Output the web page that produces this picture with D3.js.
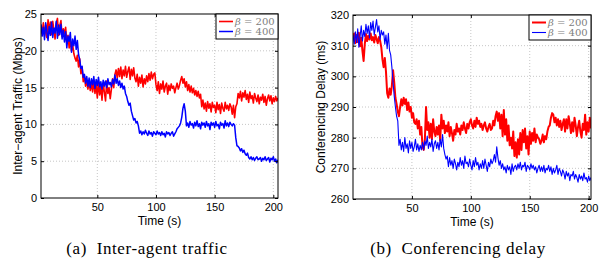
<!DOCTYPE html>
<html>
<head>
<meta charset="utf-8">
<script src="https://cdn.jsdelivr.net/npm/d3@7"></script>
<style>
  body { margin: 0; background: #fff; }
  svg { display: block; }
  .tick text { font-family: "Liberation Sans", Arial, sans-serif; font-size: 11px; fill: #000; }
</style>
</head>
<body>
<div id="chart"></div>
<script>
// left panel: inter-agent traffic (Mbps), one sample per second from t = 2
var trafficStart = 2;
var traffic200 = [
  23.1, 22.4, 23.8, 22.0, 23.5, 21.8, 24.2, 22.6, 23.9, 22.2,
  24.0, 22.8, 21.6, 23.7, 24.4, 22.1, 23.4, 24.1, 21.9, 23.0,
  22.3, 23.2, 21.0, 22.1, 20.4, 21.5, 20.0, 20.8, 19.6, 19.0,
  18.6, 19.4, 17.8, 18.9, 16.9, 17.8, 15.8, 16.6, 15.2, 16.0,
  14.8, 15.9, 14.6, 15.6, 14.4, 16.0, 14.2, 15.4, 13.6, 15.8,
  14.0, 15.2, 13.3, 15.6, 14.4, 13.2, 15.9, 14.2, 15.0, 13.5,
  14.8, 16.2, 15.0, 16.8, 17.4, 16.3, 17.6, 16.5, 17.8, 16.2,
  17.4, 16.6, 17.9, 16.4, 17.2, 17.8, 16.1, 17.5, 16.6, 17.7,
  16.3, 15.8, 16.8, 15.2, 16.4, 15.6, 16.7, 15.1, 16.2, 15.5,
  16.6, 15.8, 16.9, 16.0, 17.1, 16.2, 16.8, 17.0, 15.4, 14.6,
  15.8, 14.2, 15.5, 14.8, 15.9, 14.4, 15.2, 15.6, 14.1, 15.3,
  14.6, 15.5, 14.9, 15.2, 14.3, 15.0, 15.6, 14.8, 15.3, 16.0,
  16.5, 15.6, 16.2, 15.1, 15.8, 14.6, 15.4, 14.4, 15.2, 14.3,
  14.9, 14.0, 14.6, 13.8, 14.5, 13.6, 14.1, 12.4, 13.3, 12.1,
  12.9, 11.8, 13.1, 12.2, 12.8, 11.7, 13.0, 12.3, 12.6, 11.6,
  13.0, 12.0, 12.7, 11.5, 12.9, 12.2, 11.8, 13.0, 12.1, 12.6,
  11.9, 12.8, 12.4, 11.4, 12.6, 10.9, 12.4, 12.8, 14.2, 13.6,
  14.5, 13.2, 14.3, 13.7, 14.6, 13.4, 14.1, 13.0, 14.4, 13.5,
  13.9, 12.9, 14.2, 13.6, 13.1, 14.0, 12.8, 13.7, 13.3, 14.1,
  13.0, 13.8, 12.6, 13.5, 14.0, 13.2, 13.9, 12.8, 13.6, 13.1,
  13.8, 13.2, 13.6
];
var traffic400 = [
  23.6, 22.0, 23.2, 21.5, 23.8, 22.6, 21.4, 23.3, 22.1, 23.9,
  21.8, 23.1, 22.4, 24.0, 21.7, 23.5, 22.2, 23.6, 21.6, 22.8,
  21.2, 22.6, 20.4, 22.0, 21.3, 22.5, 19.8, 21.6, 20.7, 22.0,
  20.2, 21.4, 19.5, 18.8, 17.6, 17.9, 16.4, 16.8, 15.6, 16.5,
  15.2, 16.3, 15.0, 16.2, 15.4, 16.5, 14.9, 16.1, 15.3, 16.4,
  15.1, 15.8, 14.8, 16.0, 15.2, 15.9, 15.0, 16.2, 15.4, 15.7,
  15.1, 16.1, 15.5, 16.7, 15.6, 16.2, 15.3, 15.9, 15.0, 15.6,
  14.8, 15.2, 14.2, 13.8, 13.1, 12.6, 12.9, 11.8, 11.2, 10.6,
  10.8, 10.2, 10.4, 9.8, 8.8, 9.1, 8.6, 9.0, 8.7, 9.2,
  8.8, 8.5, 9.1, 8.7, 8.9, 8.4, 9.0, 8.8, 8.6, 9.1,
  8.7, 8.9, 8.5, 9.0, 8.6, 8.8, 8.3, 9.0, 8.7, 8.9,
  8.5, 8.8, 9.0, 8.4, 8.7, 9.0, 9.4, 9.6, 9.8, 10.2,
  11.0, 12.2, 12.8, 11.8, 9.8, 10.2, 9.6, 10.4, 9.9, 10.1,
  9.5, 10.3, 9.8, 10.5, 9.7, 10.1, 9.4, 10.3, 9.9, 10.2,
  9.6, 10.4, 9.8, 10.1, 9.3, 10.3, 9.9, 10.2, 9.6, 10.4,
  9.8, 10.0, 9.4, 10.3, 9.9, 10.1, 9.5, 10.5, 9.8, 10.2,
  9.7, 10.3, 10.0, 9.8, 10.1, 9.9, 8.2, 7.1, 7.0, 6.8,
  6.4, 6.7, 6.2, 6.5, 6.0, 5.8, 6.1, 5.5, 5.3, 5.6,
  5.2, 5.5, 5.1, 5.4, 5.6, 5.2, 5.3, 5.5, 5.0, 5.4,
  5.2, 5.6, 5.1, 5.3, 5.5, 4.9, 5.4, 5.2, 5.6, 5.0,
  5.3, 4.8, 5.2
];

// right panel: conferencing delay (ms), one sample per second from t = 0
var delayStart = 0;
var delay200 = [
  312.5, 314.0, 310.8, 313.5, 311.2, 314.2, 309.8, 312.6, 308.4, 305.0,
  310.5, 313.8, 311.5, 313.2, 312.0, 314.0, 311.8, 312.8, 311.0, 313.5,
  312.2, 310.8, 312.8, 311.6, 309.5, 305.5, 303.0, 306.0, 301.5, 294.5,
  293.0, 296.0, 294.0, 297.0, 302.0, 298.0, 293.0, 291.0, 288.5, 287.0,
  290.0, 292.5, 290.5, 293.0, 291.0, 292.5, 289.0, 291.5, 288.5, 290.0,
  286.5, 288.0, 285.0, 284.5, 286.0, 283.0, 285.5, 281.0, 283.5, 277.0,
  276.0, 279.5, 290.0, 282.5, 285.0, 280.0, 284.5, 279.5, 286.0, 282.0,
  280.5, 283.5, 281.0, 284.0, 279.0, 287.5, 283.0, 285.5, 281.5, 284.0,
  282.0, 285.0, 280.5, 283.5, 281.5, 279.0, 282.5, 281.0, 284.5, 282.0,
  283.0, 281.0, 284.0, 282.5, 285.0, 283.0, 281.5, 284.5, 283.0, 285.0,
  286.0, 284.0, 283.0, 285.5, 283.5, 286.5, 284.5, 285.5, 283.5, 284.5,
  282.5, 284.0, 285.0, 283.0, 282.0, 283.5, 284.5, 282.5, 283.0, 285.5,
  284.0, 287.0, 288.5, 285.5, 288.0, 283.0, 287.5, 280.5, 289.0, 281.0,
  286.0, 279.0, 284.0, 277.5, 280.0, 276.5, 282.0, 274.0, 278.5, 273.5,
  279.5, 274.5, 281.5, 276.0, 282.5, 278.5, 283.0, 276.5, 280.5, 274.5,
  282.0, 278.0, 281.5, 279.0, 283.0, 278.5, 281.0, 280.0, 279.5, 278.0,
  279.0, 281.0, 278.5, 280.5, 279.5, 282.0, 283.5, 284.0, 286.5, 288.0,
  287.5, 285.0, 286.5, 284.0, 286.0, 283.5, 285.5, 282.5, 284.5, 286.0,
  282.0, 286.0, 283.0, 287.0, 284.5, 281.5, 285.0, 282.0, 286.5, 284.0,
  280.5, 283.5, 285.5, 282.0, 280.0, 284.5, 282.5, 287.5, 281.0, 285.0,
  282.0, 286.5, 283.0
];
var delay400 = [
  313.5, 310.5, 314.5, 311.0, 315.5, 309.5, 313.0, 316.5, 311.5, 315.0,
  313.0, 317.0, 314.0, 316.5, 312.5, 317.5, 315.0, 318.0, 313.5, 316.0,
  318.5, 314.5, 316.5, 312.0, 315.0, 313.5, 314.5, 310.5, 313.5, 309.0,
  314.0, 308.5, 307.0, 303.0, 298.0, 293.5, 290.0, 287.0, 285.5, 277.5,
  279.5, 276.0, 278.5, 275.5, 280.0, 276.5, 278.0, 275.0, 279.0, 276.5,
  278.5, 275.5, 277.0, 279.5, 276.0, 278.0, 275.5, 277.5, 276.0, 278.5,
  276.0, 279.0, 277.5, 280.5, 276.5, 278.5, 277.0, 279.5, 275.5, 278.0,
  279.0, 276.5, 278.5, 276.0, 279.5, 277.0, 281.0, 276.5, 274.5, 273.0,
  274.0, 270.5, 273.5, 271.0, 272.5, 270.0, 273.0, 271.5, 269.5, 272.0,
  270.5, 273.5, 271.0, 272.5, 270.0, 274.0, 271.5, 272.0, 270.5, 273.0,
  271.0, 269.5, 272.5, 270.5, 273.5, 271.0, 272.0, 269.5, 271.5, 270.0,
  272.5, 270.0, 273.0, 271.0, 269.0, 272.0, 270.5, 273.0, 271.5, 272.5,
  274.5, 272.0, 277.0, 273.5, 271.0, 272.5, 270.0, 271.5, 269.5, 270.5,
  268.5, 271.0, 269.5, 270.5, 268.0, 271.5, 269.0, 270.5, 271.0, 269.5,
  271.5, 270.0, 272.0, 269.5, 271.0, 270.5, 272.0, 269.0, 271.0, 270.5,
  269.5, 271.5, 270.0, 271.0, 269.5, 270.5, 268.5, 270.0, 271.0, 269.0,
  270.5, 269.0, 271.0, 268.5, 270.0, 269.5, 271.0, 269.0, 270.5, 268.0,
  270.0, 268.5, 269.5, 271.0, 268.0, 270.0, 269.0, 267.5, 269.5, 268.5,
  266.5, 269.0, 267.5, 268.5, 266.0, 268.0, 267.5, 269.0, 266.5, 268.0,
  267.0, 265.5, 268.0, 266.5, 267.5, 266.0, 268.5, 266.5, 267.0, 265.5,
  267.5, 266.0, 267.0
];

var timeTicks = [50, 100, 150, 200];
var trafficTicks = [0, 5, 10, 15, 20, 25];
var delayTicks = [260, 270, 280, 290, 300, 310, 320];
var legendValues = ["200", "400"];
var colors = ["#ff0000", "#0000ff"];

var svg = d3.select("#chart").append("svg")
    .attr("width", 600).attr("height", 259);

function panel(opt) {
    var x = d3.scaleLinear().domain(opt.xDomain).range([opt.left, opt.right]),
        y = d3.scaleLinear().domain(opt.yDomain).range([opt.bottom, opt.top]);

    var g = svg.append("g");

    g.append("clipPath").attr("id", opt.id)
      .append("rect")
        .attr("x", opt.left).attr("y", opt.top)
        .attr("width", opt.right - opt.left).attr("height", opt.bottom - opt.top);

    // dotted grid
    g.selectAll(".vgrid").data(opt.xTicks).enter().append("line")
        .attr("x1", function(d) { return x(d); }).attr("x2", function(d) { return x(d); })
        .attr("y1", opt.top).attr("y2", opt.bottom)
        .attr("stroke", "#b8b8b8").attr("stroke-width", 0.8).attr("stroke-dasharray", "1,2");
    g.selectAll(".hgrid").data(opt.yTicks.slice(1, -1)).enter().append("line")
        .attr("x1", opt.left).attr("x2", opt.right)
        .attr("y1", function(d) { return y(d); }).attr("y2", function(d) { return y(d); })
        .attr("stroke", "#b8b8b8").attr("stroke-width", 0.8).attr("stroke-dasharray", "1,2");

    var line = d3.line()
        .x(function(d, i) { return x(opt.start + i); })
        .y(function(d) { return y(d); });

    opt.series.forEach(function(s, i) {
        g.append("path")
            .datum(s)
            .attr("clip-path", "url(#" + opt.id + ")")
            .attr("fill", "none")
            .attr("stroke", colors[i])
            .attr("stroke-width", opt.widths[i])
            .attr("stroke-linejoin", "round")
            .attr("d", line);
    });

    // axes, matlab style ticks pointing inward
    g.append("g")
        .attr("transform", "translate(0," + opt.bottom + ")")
        .call(d3.axisBottom(x).tickValues(opt.xTicks).tickSizeInner(-3).tickSizeOuter(0).tickPadding(5))
        .call(function(a) { a.select(".domain").remove(); });
    g.append("g")
        .attr("transform", "translate(" + opt.left + ",0)")
        .call(d3.axisLeft(y).tickValues(opt.yTicks).tickSizeInner(-3).tickSizeOuter(0).tickPadding(4))
        .call(function(a) { a.select(".domain").remove(); });
    g.append("g")
        .attr("transform", "translate(0," + opt.top + ")")
        .call(d3.axisTop(x).tickValues(opt.xTicks).tickSizeInner(-3).tickSizeOuter(0).tickFormat(""))
        .call(function(a) { a.select(".domain").remove(); });
    g.append("g")
        .attr("transform", "translate(" + opt.right + ",0)")
        .call(d3.axisRight(y).tickValues(opt.yTicks).tickSizeInner(-3).tickSizeOuter(0).tickFormat(""))
        .call(function(a) { a.select(".domain").remove(); });

    g.append("rect")
        .attr("x", opt.left).attr("y", opt.top)
        .attr("width", opt.right - opt.left).attr("height", opt.bottom - opt.top)
        .attr("fill", "none").attr("stroke", "#000").attr("stroke-width", 1);

    // legend
    var lx = opt.right - 62, ly = opt.top;
    g.append("rect")
        .attr("x", lx).attr("y", ly).attr("width", 62).attr("height", 25)
        .attr("fill", "#fff").attr("stroke", "#000").attr("stroke-width", 1);
    legendValues.forEach(function(v, i) {
        var yy = ly + 7.5 + i * 10;
        g.append("line")
            .attr("x1", lx + 3).attr("x2", lx + 17)
            .attr("y1", yy).attr("y2", yy)
            .attr("stroke", colors[i]).attr("stroke-width", opt.widths[i]);
        var t = g.append("text")
            .attr("x", lx + 19).attr("y", yy + 3.5)
            .attr("font-family", "'DejaVu Serif', serif").attr("font-size", 10)
            .attr("fill", "#808080");
        t.append("tspan").attr("font-style", "italic").text("\u03b2");
        t.append("tspan").text(" = " + v);
    });

    g.append("text")
        .attr("x", (opt.left + opt.right) / 2).attr("y", opt.bottom + 27)
        .attr("text-anchor", "middle")
        .attr("font-family", "'Liberation Sans', Arial, sans-serif").attr("font-size", 12)
        .text("Time (s)");
    g.append("text")
        .attr("transform", "translate(" + opt.ylabelX + "," + (opt.top + opt.bottom) / 2 + ") rotate(-90)")
        .attr("text-anchor", "middle")
        .attr("font-family", "'Liberation Sans', Arial, sans-serif").attr("font-size", 12)
        .text(opt.ylabel);
    g.append("text")
        .attr("x", opt.captionX).attr("y", 254)
        .attr("text-anchor", "middle")
        .attr("font-family", "'Liberation Serif', 'Times New Roman', serif").attr("font-size", 17)
        .attr("letter-spacing", 0.6)
        .attr("xml:space", "preserve")
        .text(opt.caption);
}

panel({
    id: "clipA", left: 41, right: 278, top: 14, bottom: 198,
    xDomain: [2, 204], yDomain: [0, 25],
    xTicks: timeTicks, yTicks: trafficTicks,
    start: trafficStart, series: [traffic200, traffic400], widths: [1.6, 1.5],
    ylabel: "Inter\u2212agent Traffic (Mbps)", ylabelX: 22,
    caption: "(a)  Inter-agent traffic", captionX: 147
});
panel({
    id: "clipB", left: 353, right: 591, top: 15, bottom: 199,
    xDomain: [0, 202], yDomain: [260, 320],
    xTicks: timeTicks, yTicks: delayTicks,
    start: delayStart, series: [delay200, delay400], widths: [2, 1.1],
    ylabel: "Conferencing Delay (ms)", ylabelX: 325,
    caption: "(b)  Conferencing delay", captionX: 458
});
</script>
</body>
</html>
